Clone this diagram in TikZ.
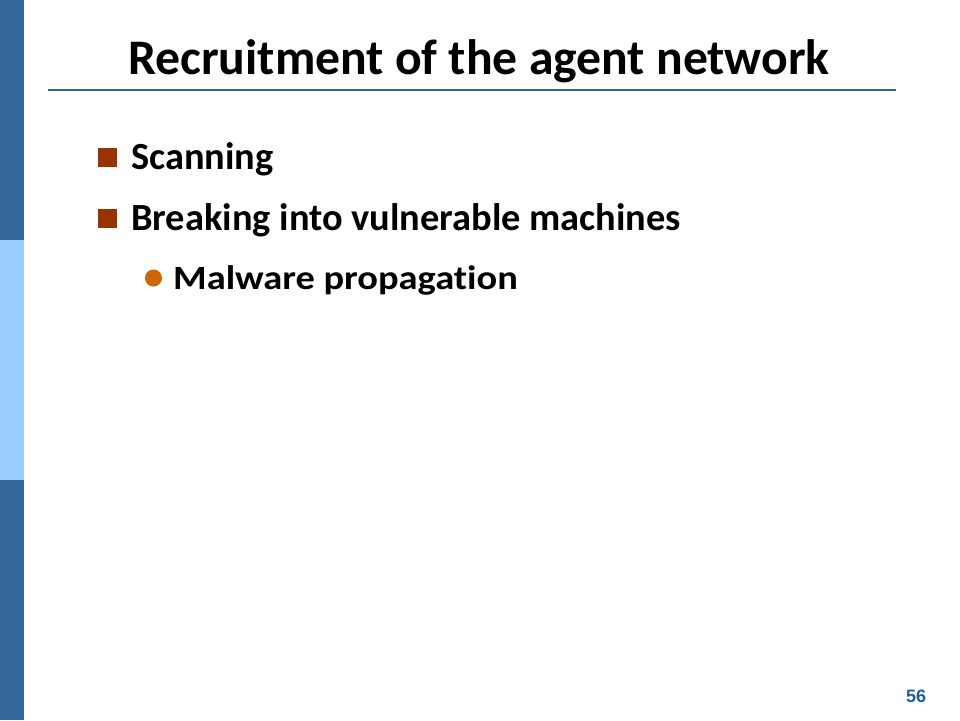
\documentclass[tikz,border=0pt]{standalone}
\usepackage{fontspec}
\setmainfont{Carlito}[Ligatures=NoCommon]
\newfontfamily\numfont{Liberation Sans}
\definecolor{barDark}{HTML}{336699}
\definecolor{barLight}{HTML}{99CCFF}
\definecolor{ruleBlue}{HTML}{336699}
\definecolor{sqBullet}{HTML}{993300}
\definecolor{dotBullet}{HTML}{CC6600}
\definecolor{numBlue}{HTML}{1F5F99}
\tikzset{
  titletext/.style={font=\fontsize{49.7}{54}\selectfont\bfseries, anchor=base, inner sep=0pt},
  lvlone/.style={font=\fontsize{38.4}{42}\selectfont\bfseries, anchor=base west, inner sep=0pt},
  lvltwo/.style={font=\fontsize{34}{38}\selectfont\bfseries, anchor=base west, inner sep=0pt},
  sqbul/.style={fill=sqBullet, draw=none, minimum size=19pt, inner sep=0pt},
  dotbul/.style={circle, fill=dotBullet, draw=none, minimum size=17pt, inner sep=0pt},
}
\begin{document}
\begin{tikzpicture}[x=1pt,y=-1pt]
\useasboundingbox (0,0) rectangle (960,720);
\fill[white] (0,0) rectangle (960,720);
% left bar
\fill[barDark] (0,0) rectangle (24,240);
\fill[barLight] (0,240) rectangle (24,480);
\fill[barDark] (0,480) rectangle (24,720);
% title
\node[titletext] (title) at (479,74) {Recruitment of the agent network};
\coordinate (ruleL) at (48,90);
\coordinate (ruleR) at (896,90);
\draw[ruleBlue, line width=1.8pt] (ruleL) -- (ruleR);
% bullets
\node[sqbul] (b1) at (107,157) {};
\node[lvlone] (t1) at (131,169) {Scanning};
\node[sqbul] (b2) at (107,218) {};
\node[lvlone] (t2) at (131,230) {Breaking into vulnerable machines};
\node[dotbul] (b3) at (153.5,278) {};
\node[lvltwo] (t3) at (173,289) {\scalebox{1.13}[1]{Malware propagation}};
% page number
\node[font=\numfont\fontsize{18}{20}\selectfont\bfseries, text=numBlue, anchor=base, inner sep=0pt] (num) at (916,702) {56};
\end{tikzpicture}
\end{document}
